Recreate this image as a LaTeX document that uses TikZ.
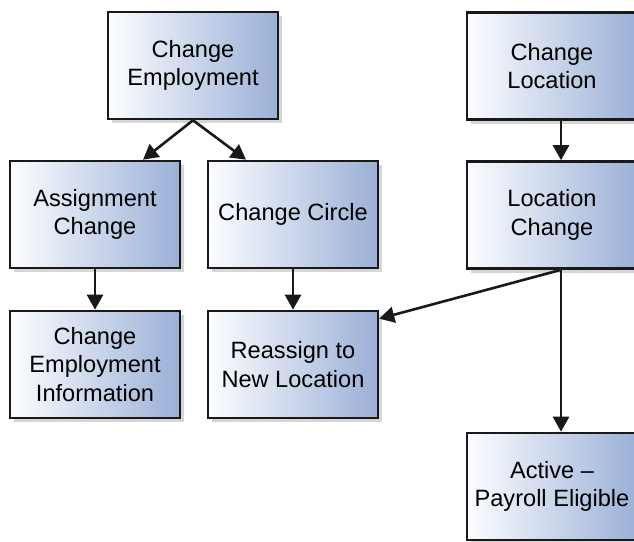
\documentclass[tikz,border=0pt]{standalone}
\usepackage{fontspec}
\setmainfont{Liberation Sans}
\usetikzlibrary{arrows.meta,shadows}
\definecolor{boxright}{HTML}{9BB0D7}
\definecolor{boxleft}{HTML}{FCFDFF}
\tikzset{
  flowbox/.style={draw=black!90, line width=2.6pt, minimum width=170pt, minimum height=107pt,
    left color=boxleft, right color=boxright, align=center,
    font=\fontsize{23.6}{28.3}\selectfont, inner sep=2pt,
    drop shadow={shadow xshift=4pt, shadow yshift=-4pt, fill=black!16, opacity=1}},
  conn/.style={line width=2.6pt, draw=black!90, -{Triangle[length=15pt,width=16pt]}}
}
\begin{document}
\begin{tikzpicture}[x=1pt,y=-1pt]
\useasboundingbox (0,0) rectangle (634,541);
\clip (0,0) rectangle (634,541);
\fill[white] (0,0) rectangle (634,541);
\node[flowbox] (ce) at (193,65.5) {Change\\Employment};
\node[flowbox] (ac) at (95,214.5) {Assignment\\Change};
\node[flowbox] (cc) at (293,214.5) {Change Circle};
\node[flowbox] (cl) at (552,66) {Change\\Location};
\node[flowbox] (lc) at (552,215) {Location\\Change};
\node[flowbox] (cei) at (95,364.5) {Change\\Employment\\Information};
\node[flowbox] (rnl) at (293,364.5) {Reassign to\\New Location};
\node[flowbox] (ape) at (552,486.5) {Active --\\Payroll Eligible};
\draw[conn] (ce.south) -- ([xshift=48pt]ac.north);
\draw[conn] (ce.south) -- ([xshift=-47pt]cc.north);
\draw[conn] (ac.south) -- (cei.north);
\draw[conn] (cc.south) -- (rnl.north);
\draw[conn] ([xshift=9pt]cl.south) -- ([xshift=9pt]lc.north);
\draw[conn] ([xshift=9pt]lc.south) -- ([yshift=-9pt]rnl.north east);
\draw[conn] ([xshift=9pt]lc.south) -- ([xshift=9pt]ape.north);
\end{tikzpicture}
\end{document}
